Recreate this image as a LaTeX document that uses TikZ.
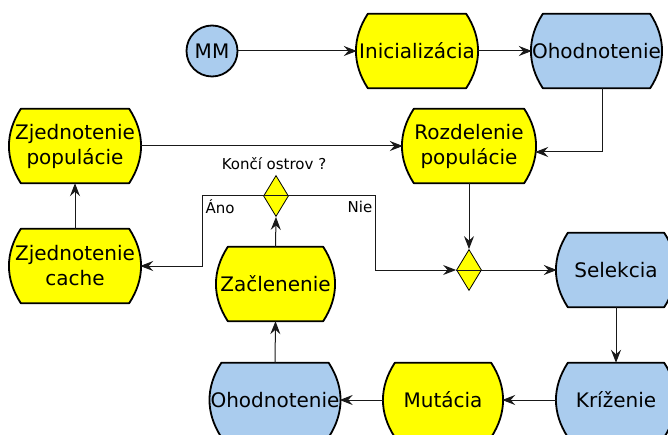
\documentclass[tikz,border=0pt]{standalone}
\usepackage{fontspec}
\setmainfont{DejaVu Sans}
\usetikzlibrary{shapes.geometric,arrows.meta,calc}
\pgfdeclarelayer{bg}
\pgfsetlayers{bg,main}
\definecolor{procyellow}{RGB}{255,255,0}
\definecolor{procblue}{RGB}{170,204,238}
\newcommand\bigtxt{\fontsize{20}{25}\selectfont}
\newcommand\smalltxt{\fontsize{15}{17}\selectfont}
% barrel-shaped process box drawn behind a named node
\newcommand\barrel[2]{%
  \path[draw=black, line width=1.8pt, fill=#2, line join=round]
    ($(#1.north west)+(11pt,0)$) -- ($(#1.north east)+(-11pt,0)$)
    to[bend left=33] ($(#1.south east)+(-11pt,0)$)
    -- ($(#1.south west)+(11pt,0)$)
    to[bend left=33] ($(#1.north west)+(11pt,0)$) -- cycle;
}
\tikzset{
  proc/.style={minimum height=74pt, inner sep=0pt, align=center, font=\bigtxt},
  gate/.style={diamond, draw=black, line width=0.8pt, fill=procyellow,
    minimum width=25pt, minimum height=41pt, inner sep=0pt},
  lbl/.style={font=\smalltxt, inner sep=1pt},
  arr/.style={-{Stealth[length=13pt, width=10pt, inset=4.5pt]}, line width=1pt, draw=black!90},
}
\begin{document}
\begin{tikzpicture}[x=1pt, y=-1pt]
\useasboundingbox (0,0) rectangle (668,435);

% start event
\node[circle, draw=black, line width=1.8pt, fill=procblue, minimum size=51pt,
      inner sep=0pt, font=\bigtxt] (mm) at (212,51) {MM};

% process boxes
\node[proc, minimum width=120pt] (ini) at (417,51) {Inicializácia};
\node[proc, minimum width=129pt] (oh1) at (596.5,51) {Ohodnotenie};
\node[proc, minimum width=130pt] (zp) at (75,146) {Zjednotenie\\populácie};
\node[proc, minimum width=132pt] (rp) at (469,146) {Rozdelenie\\populácie};
\node[proc, minimum width=130pt] (zc) at (75,266) {Zjednotenie\\cache};
\node[proc, minimum width=117pt] (zac) at (275.5,284) {Začlenenie};
\node[proc, minimum width=118pt] (sel) at (616,270) {Selekcia};
\node[proc, minimum width=118pt] (kri) at (616,400) {Kríženie};
\node[proc, minimum width=118pt] (mut) at (443,400) {Mutácia};
\node[proc, minimum width=128pt] (oh2) at (275,400) {Ohodnotenie};

\begin{pgfonlayer}{bg}
  \foreach \n/\c in {ini/procyellow, oh1/procblue, zp/procyellow, rp/procyellow,
                     zc/procyellow, zac/procyellow, sel/procblue, kri/procblue,
                     mut/procyellow, oh2/procblue}
    {\barrel{\n}{\c}}
\end{pgfonlayer}

% decision gates
\node[gate] (d1) at (276,196) {};
\node[gate] (d2) at (469,270) {};

% labels
\node[lbl] (q) at (274,164) {Končí ostrov ?};
\node[lbl] (ano) at (220,207) {Áno};
\node[lbl] (nie) at (360,207) {Nie};

% bend points of the branch lines
\coordinate (anoc) at (202,196);
\coordinate (niec) at (375,196);

% connectors
\draw[arr] (mm.east) -- (ini.west);
\draw[arr] (ini.east) -- (oh1.west);
\draw[arr] ($(oh1.south)+(6,0)$) |- ($(rp.east)+(0,6)$);
\draw[arr] (zp.east) -- (rp.west);
\draw[arr] (rp.south) -- (d2.north);
\draw[arr] (d2.west) -- (sel.west);
\draw[arr] (d1.center) -- (anoc) |- (zc.east);
\draw[arr] (d1.center) -- (niec) |- (d2.west);
\draw[arr] (zac.north) -- (d1.south);
\draw[arr] (oh2.north) -- (zac.south);
\draw[arr] (sel.south) -- (kri.north);
\draw[arr] (kri.west) -- (mut.east);
\draw[arr] (mut.west) -- (oh2.east);
\draw[arr] (zc.north) -- (zp.south);
\end{tikzpicture}
\end{document}
